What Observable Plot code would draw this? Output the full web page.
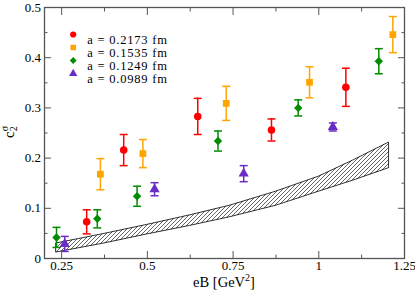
<!DOCTYPE html>
<html><head><meta charset="utf-8">
<script src="https://cdn.jsdelivr.net/npm/d3@7"></script>
<script src="https://cdn.jsdelivr.net/npm/@observablehq/plot@0.6"></script>
<style>
body{margin:0;background:#fff}
#chart{position:relative;width:415px;height:293px}
#chart svg, #chart svg text, #chart svg tspan{font-family:"Liberation Serif","Tinos","Times New Roman","Times","DejaVu Serif","Noto Serif",serif !important}
</style>
</head><body><div id="chart"></div>
<script>
// ---- data ----
const seriesNames = ["a = 0.2173 fm", "a = 0.1535 fm", "a = 0.1249 fm", "a = 0.0989 fm"];
const seriesColors = ["#ff0000", "#ffa500", "#008b00", "#6a2cc4"];
const seriesSymbols = ["circle", "square", "diamond2", "triangle"];

const eB_a2173 = [0.323, 0.431, 0.647, 0.862, 1.079];
const c2_a2173 = [0.073, 0.216, 0.283, 0.256, 0.341];
const err_a2173 = [0.024, 0.031, 0.036, 0.022, 0.038];

const eB_a1535 = [0.363, 0.487, 0.730, 0.973, 1.216];
const c2_a1535 = [0.168, 0.209, 0.309, 0.351, 0.446];
const err_a1535 = [0.031, 0.028, 0.034, 0.031, 0.036];

const eB_a1249 = [0.235, 0.354, 0.470, 0.706, 0.940, 1.175];
const c2_a1249 = [0.042, 0.079, 0.124, 0.234, 0.300, 0.393];
const err_a1249 = [0.020, 0.018, 0.020, 0.020, 0.016, 0.025];

const eB_a0989 = [0.259, 0.521, 0.781, 1.041];
const c2_a0989 = [0.029, 0.138, 0.169, 0.262];
const err_a0989 = [0.015, 0.013, 0.016, 0.008];

const band_eB = [0.235, 0.375, 0.5, 0.625, 0.74, 0.875, 1.0, 1.1, 1.205];
const band_hi = [0.030, 0.049, 0.067, 0.086, 0.105, 0.133, 0.163, 0.195, 0.231];
const band_lo = [0.012, 0.030, 0.048, 0.065, 0.082, 0.105, 0.133, 0.155, 0.180];

const xMajor = [0.25, 0.5, 0.75, 1, 1.25];
const xMinor = [0.375, 0.625, 0.875, 1.125];
const yMajor = [0, 0.1, 0.2, 0.3, 0.4, 0.5];
const yMinor = [0.05, 0.15, 0.25, 0.35, 0.45];

// ---- tables ----
const groups = [
  [eB_a2173, c2_a2173, err_a2173],
  [eB_a1535, c2_a1535, err_a1535],
  [eB_a1249, c2_a1249, err_a1249],
  [eB_a0989, c2_a0989, err_a0989]
];
const points = groups.flatMap(([xs, ys, es], i) =>
  xs.map((x, j) => ({series: seriesNames[i], eB: x, c: ys[j], e: es[j]})));
const band = band_eB.map((x, i) => ({eB: x, hi: band_hi[i], lo: band_lo[i]}));

const cap = {draw(ctx) { ctx.moveTo(-4, 0); ctx.lineTo(4, 0); }};
const axisStroke = "#555";
const FONT = "'Liberation Serif', Tinos, 'Times New Roman', Times, 'DejaVu Serif', 'Noto Serif', serif";

const legendMarks = seriesNames.flatMap((s, i) => [
  Plot.dot([s], {frameAnchor: "top-left", dx: 28.7, dy: 27 + i * 13, r: 3.1,
    fill: seriesColors[i], symbol: seriesSymbols[i]}),
  Plot.text([s], {frameAnchor: "top-left", dx: 42.7, dy: 27.8 + i * 13, text: d => d,
    textAnchor: "start", fontSize: 12.5, fontFamily: FONT, fill: "black"})
]);

const svg = Plot.plot({
  width: 415, height: 293,
  marginLeft: 44, marginRight: 11, marginTop: 7, marginBottom: 35,
  style: {fontFamily: FONT, fontSize: "13px", background: "white", color: "black"},
  x: {domain: [0.2, 1.25]},
  y: {domain: [0, 0.5]},
  color: {domain: seriesNames, range: seriesColors},
  symbol: {domain: seriesNames, range: seriesSymbols},
  marks: [
    Plot.areaY(band, {x: "eB", y1: "lo", y2: "hi", fill: "url(#hatch)", stroke: "black", strokeWidth: 0.8}),
    Plot.ruleX(points, {x: "eB", y1: d => d.c - d.e, y2: d => d.c + d.e, stroke: "series", strokeWidth: 1.5}),
    Plot.dot(points, {x: "eB", y: d => d.c - d.e, symbol: cap, fill: "none", stroke: "series", strokeWidth: 1.5}),
    Plot.dot(points, {x: "eB", y: d => d.c + d.e, symbol: cap, fill: "none", stroke: "series", strokeWidth: 1.5}),
    Plot.dot(points, {x: "eB", y: "c", symbol: "series", fill: "series", r: 3.8}),
    ...legendMarks,
    // axes: inward ticks
    Plot.axisX({ticks: xMajor, tickSize: -7, tickPadding: 9, tickFormat: d => String(d), label: null, stroke: axisStroke, fontFamily: FONT}),
    Plot.axisX({ticks: xMinor, tickSize: -3.5, tickFormat: () => "", label: null, stroke: axisStroke}),
    Plot.axisX({anchor: "top", ticks: xMajor, tickSize: -7, tickFormat: () => "", label: null, stroke: axisStroke}),
    Plot.axisX({anchor: "top", ticks: xMinor, tickSize: -3.5, tickFormat: () => "", label: null, stroke: axisStroke}),
    Plot.axisY({ticks: yMajor, tickSize: -7, tickPadding: 10.5, tickFormat: d => String(d), label: null, stroke: axisStroke, fontFamily: FONT}),
    Plot.axisY({ticks: yMinor, tickSize: -3.5, tickFormat: () => "", label: null, stroke: axisStroke}),
    Plot.axisY({anchor: "right", ticks: yMajor, tickSize: -7, tickFormat: () => "", label: null, stroke: axisStroke}),
    Plot.axisY({anchor: "right", ticks: yMinor, tickSize: -3.5, tickFormat: () => "", label: null, stroke: axisStroke}),
    Plot.frame({stroke: axisStroke, strokeWidth: 1.3})
  ]
});

// hatch pattern
const sel = d3.select(svg);
sel.attr("font-family", FONT);
sel.selectAll("g[aria-label='text'] text").attr("letter-spacing", "0.8px");
const pat = sel.insert("defs", ":first-child").append("pattern")
  .attr("id", "hatch").attr("patternUnits", "userSpaceOnUse")
  .attr("width", 4).attr("height", 4);
pat.append("rect").attr("width", 4).attr("height", 4).attr("fill", "white");
pat.append("path").attr("d", "M-1,1 l2,-2 M0,4 l4,-4 M3,5 l2,-2")
  .attr("stroke", "black").attr("stroke-width", 0.6);

// axis titles
const xl = sel.append("text").attr("x", 224).attr("y", 287).attr("font-family", FONT)
  .attr("text-anchor", "middle").attr("font-size", 14.5).attr("fill", "black");
xl.append("tspan").text("eB [GeV");
xl.append("tspan").attr("font-size", 10).attr("dy", -6).text("2");
xl.append("tspan").attr("dy", 6).text("]");

const yl = sel.append("text").attr("transform", "translate(13.5,138) rotate(-90)").attr("font-family", FONT)
  .attr("text-anchor", "start").attr("font-size", 15).attr("fill", "black");
yl.append("tspan").text("c");
yl.append("tspan").attr("font-size", 10).attr("dy", 3.5).text("2");
yl.append("tspan").attr("font-size", 10).attr("dx", -5).attr("dy", -9.5).text("σ");

document.getElementById("chart").appendChild(svg);
</script>
</body></html>
